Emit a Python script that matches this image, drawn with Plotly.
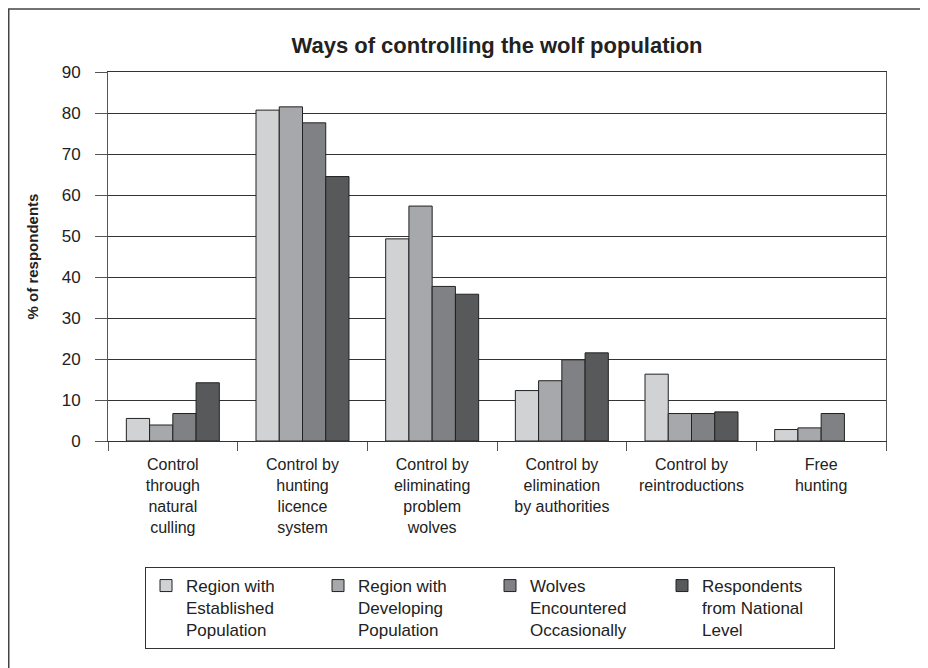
import plotly.graph_objects as go

categories = [
    "Control<br>through<br>natural<br>culling",
    "Control by<br>hunting<br>licence<br>system",
    "Control by<br>eliminating<br>problem<br>wolves",
    "Control by<br>elimination<br>by authorities",
    "Control by<br>reintroductions",
    "Free<br>hunting",
]

established = [5.5, 80.7, 49.3, 12.3, 16.3, 2.8]
developing = [3.9, 81.5, 57.3, 14.7, 6.7, 3.2]
occasional = [6.7, 77.6, 37.7, 19.8, 6.7, 6.7]
national = [14.2, 64.5, 35.8, 21.5, 7.1, None]

series_names = [
    "Region with<br>Established<br>Population",
    "Region with<br>Developing<br>Population",
    "Wolves<br>Encountered<br>Occasionally",
    "Respondents<br>from National<br>Level",
]
series_values = [established, developing, occasional, national]
colors = ["#d1d2d4", "#a7a8ab", "#808184", "#58595b"]

FONT = "Liberation Sans, Arial, sans-serif"

# the page body adds 8px, so the figure is drawn 8px smaller
W, H = 920, 660
L, R, T, B = 100, 42, 64, 227
PW, PH = W - L - R, H - T - B

fig = go.Figure()
for name, values, color in zip(series_names, series_values, colors):
    fig.add_trace(
        go.Bar(
            x=categories,
            y=values,
            name=name,
            marker=dict(color=color, line=dict(color="#222222", width=1)),
        )
    )

fig.update_layout(
    width=W,
    height=H,
    barmode="group",
    bargap=0.283,
    bargroupgap=0,
    plot_bgcolor="white",
    paper_bgcolor="white",
    font=dict(family=FONT, size=16, color="#222222"),
    margin=dict(l=L, r=R, t=T, b=B),
    title=dict(
        text="<b>Ways of controlling the wolf population</b>",
        font=dict(size=22, color="#222222"),
        x=0.5,
        xref="paper",
        xanchor="center",
        y=1 - 37 / H,
        yanchor="middle",
    ),
    legend=dict(
        orientation="h",
        x=(482 - L) / PW,
        xanchor="center",
        y=(PH + T - 559) / PH,
        yanchor="top",
        bordercolor="#333333",
        borderwidth=1,
        bgcolor="white",
        font=dict(size=17),
        valign="top",
        entrywidth=127,
        entrywidthmode="pixels",
        tracegroupgap=0,
    ),
    shapes=[
        dict(
            type="rect",
            xref="paper",
            yref="paper",
            x0=(0.75 - L) / PW,
            x1=1.2,
            y0=-1.0,
            y1=(PH + T - 1) / PH,
            line=dict(color="#444444", width=1.5),
            layer="below",
        )
    ],
)

fig.update_xaxes(
    tickson="boundaries",
    ticks="outside",
    ticklen=9,
    tickcolor="#555555",
    showline=True,
    linecolor="#333333",
    mirror=True,
    showgrid=False,
    tickfont=dict(size=16),
    ticklabelstandoff=9,
)
fig.update_yaxes(
    range=[0, 90],
    dtick=10,
    ticks="outside",
    ticklen=12,
    tickcolor="#555555",
    showline=True,
    linecolor="#555555",
    mirror=True,
    showgrid=True,
    gridcolor="#333333",
    gridwidth=1,
    zeroline=False,
    tickfont=dict(size=17),
    ticklabelstandoff=11,
    title=dict(text="<b>% of respondents</b>", font=dict(size=15), standoff=19),
)

fig.write_html("out.html")
